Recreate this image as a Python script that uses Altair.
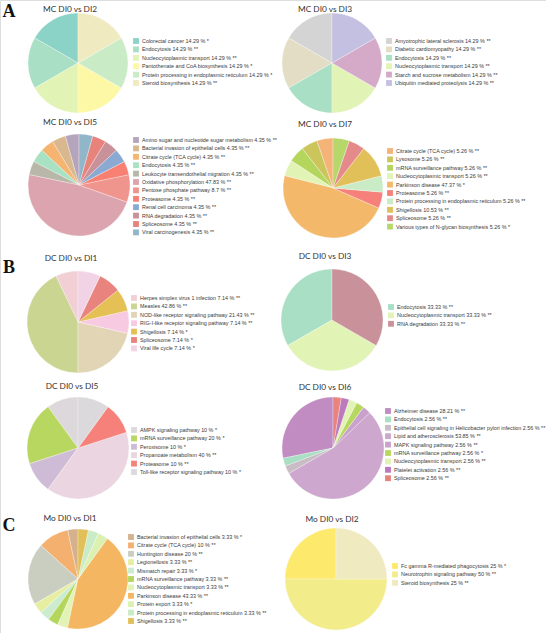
import altair as alt
import pandas as pd

# ---- MC DI0 vs DI2 ----
mc2_terms = ["Colorectal cancer", "Endocytosis", "Nucleocytoplasmic transport",
             "Pantothenate and CoA biosynthesis", "Protein processing in endoplasmic reticulum",
             "Steroid biosynthesis"]
mc2_pct = [14.29, 14.29, 14.29, 14.29, 14.29, 14.29]
mc2_sig = ["*", "**", "**", "*", "*", "**"]
mc2_colors = ["#8bd3c7", "#a9dfc4", "#e1f3b5", "#fdf8a6", "#c9ecc6", "#efeabf"]

# ---- MC DI0 vs DI3 ----
mc3_terms = ["Amyotrophic lateral sclerosis", "Diabetic cardiomyopathy", "Endocytosis",
             "Nucleocytoplasmic transport", "Starch and sucrose metabolism",
             "Ubiquitin mediated proteolysis"]
mc3_pct = [14.29, 14.29, 14.29, 14.29, 14.29, 14.29]
mc3_sig = ["**", "**", "**", "**", "**", "**"]
mc3_colors = ["#d4d4d4", "#e3ddc5", "#a9dfc4", "#e1f3b5", "#d5aac9", "#c4c0e1"]

# ---- MC DI0 vs DI5 ----
mc5_terms = ["Amino sugar and nucleotide sugar metabolism", "Bacterial invasion of epithelial cells",
             "Citrate cycle (TCA cycle)", "Endocytosis", "Leukocyte transendothelial migration",
             "Oxidative phosphorylation", "Pentose phosphate pathway", "Proteasome",
             "Renal cell carcinoma", "RNA degradation", "Spliceosome", "Viral carcinogenesis"]
mc5_pct = [4.35, 4.35, 4.35, 4.35, 4.35, 47.83, 8.7, 4.35, 4.35, 4.35, 4.35, 4.35]
mc5_sig = ["**", "**", "**", "**", "**", "**", "**", "**", "**", "**", "**", "**"]
mc5_colors = ["#b4a5bd", "#d9b78f", "#f5b571", "#a9e1c3", "#b7b8a8", "#dca4ae",
              "#f0958e", "#f88073", "#8aaad3", "#c99199", "#e8837c", "#92b6c9"]

# ---- MC DI0 vs DI7 ----
mc7_terms = ["Citrate cycle (TCA cycle)", "Lysosome", "mRNA surveillance pathway",
             "Nucleocytoplasmic transport", "Parkinson disease", "Proteasome",
             "Protein processing in endoplasmic reticulum", "Shigellosis", "Spliceosome",
             "Various types of N-glycan biosynthesis"]
mc7_pct = [5.26, 5.26, 5.26, 5.26, 47.37, 5.26, 5.26, 10.53, 5.26, 5.26]
mc7_sig = ["**", "**", "**", "**", "*", "**", "**", "**", "**", "*"]
mc7_colors = ["#f4b477", "#cbc55c", "#b5d65c", "#e1f3b5", "#f4b86b", "#f6807a",
              "#c9ecc6", "#e1c05a", "#e58a8b", "#b6d86b"]

# ---- DC DI0 vs DI1 ----
dc1_terms = ["Herpes simplex virus 1 infection", "Measles", "NOD-like receptor signaling pathway",
             "RIG-I-like receptor signaling pathway", "Shigellosis", "Spliceosome",
             "Viral life cycle"]
dc1_pct = [7.14, 42.86, 21.43, 7.14, 7.14, 7.14, 7.14]
dc1_sig = ["**", "**", "**", "**", "*", "*", "*"]
dc1_colors = ["#f2cfd4", "#cad592", "#e1d5b6", "#f8cae1", "#e4c055", "#e8837d", "#f2d3e5"]

# ---- DC DI0 vs DI3 ----
dc3_terms = ["Endocytosis", "Nucleocytoplasmic transport", "RNA degradation"]
dc3_pct = [33.33, 33.33, 33.33]
dc3_sig = ["**", "**", "**"]
dc3_colors = ["#a9dfc4", "#e1f3b5", "#c99199"]

# ---- DC DI0 vs DI5 ----
dc5_terms = ["AMPK signaling pathway", "mRNA surveillance pathway", "Peroxisome",
             "Propanoate metabolism", "Proteasome", "Toll-like receptor signaling pathway"]
dc5_pct = [10, 20, 10, 40, 10, 10]
dc5_sig = ["*", "*", "*", "**", "**", "*"]
dc5_colors = ["#ddd8db", "#b8d760", "#cebcd6", "#ebd5e1", "#f6807a", "#dcd9dc"]

# ---- DC DI0 vs DI6 ----
dc6_terms = ["Alzheimer disease", "Endocytosis",
             "Epithelial cell signaling in Helicobacter pylori infection",
             "Lipid and atherosclerosis", "MAPK signaling pathway", "mRNA surveillance pathway",
             "Nucleocytoplasmic transport", "Platelet activation", "Spliceosome"]
dc6_pct = [28.21, 2.56, 2.56, 53.85, 2.56, 2.56, 2.56, 2.56, 2.56]
dc6_sig = ["**", "**", "**", "**", "**", "*", "**", "**", "**"]
dc6_colors = ["#c18cc1", "#a9dfc4", "#c9bdc5", "#cda7cd", "#c9a1cc", "#b8d760",
              "#e1f3b5", "#bc79bd", "#e8837d"]

# ---- Mo DI0 vs DI1 ----
mo1_terms = ["Bacterial invasion of epithelial cells", "Citrate cycle (TCA cycle)",
             "Huntington disease", "Legionellosis", "Mismatch repair",
             "mRNA surveillance pathway", "Nucleocytoplasmic transport", "Parkinson disease",
             "Protein export", "Protein processing in endoplasmic reticulum", "Shigellosis"]
mo1_pct = [3.33, 10, 20, 3.33, 3.33, 3.33, 3.33, 43.33, 3.33, 3.33, 3.33]
mo1_sig = ["*", "**", "**", "**", "*", "**", "**", "**", "*", "**", "**"]
mo1_colors = ["#d5b18d", "#f4b06e", "#cacec1", "#e7eea1", "#cbeccf", "#b5d65c",
              "#e1f3b5", "#f4b661", "#dcf0b1", "#c9ecc6", "#e1c05a"]

# ---- Mo DI0 vs DI2 ----
mo2_terms = ["Fc gamma R-mediated phagocytosis", "Neurotrophin signaling pathway",
             "Steroid biosynthesis"]
mo2_pct = [25, 50, 25]
mo2_sig = ["*", "**", "**"]
mo2_colors = ["#fde96c", "#f3ec8b", "#efeabf"]

# panel title, data, title anchor, pie centre / radius, legend anchor
panels = [
    ("MC DI0 vs DI2", mc2_terms, mc2_pct, mc2_sig, mc2_colors, (70, 10), (78, 63, 50), (133, 38)),
    ("MC DI0 vs DI3", mc3_terms, mc3_pct, mc3_sig, mc3_colors, (325, 10), (332, 63, 50), (386, 38)),
    ("MC DI0 vs DI5", mc5_terms, mc5_pct, mc5_sig, mc5_colors, (70, 123), (79, 185, 51), (133, 137)),
    ("MC DI0 vs DI7", mc7_terms, mc7_pct, mc7_sig, mc7_colors, (325, 125), (333, 188, 50), (387, 148)),
    ("DC DI0 vs DI1", dc1_terms, dc1_pct, dc1_sig, dc1_colors, (71, 259), (78, 322, 51), (131, 295)),
    ("DC DI0 vs DI3", dc3_terms, dc3_pct, dc3_sig, dc3_colors, (325, 257), (332, 320, 51), (388, 304)),
    ("DC DI0 vs DI5", dc5_terms, dc5_pct, dc5_sig, dc5_colors, (72, 387), (78, 448, 51), (131, 427)),
    ("DC DI0 vs DI6", dc6_terms, dc6_pct, dc6_sig, dc6_colors, (325, 388), (333, 448, 51), (385, 408)),
    ("Mo DI0 vs DI1", mo1_terms, mo1_pct, mo1_sig, mo1_colors, (70, 519), (78, 579, 50), (128, 534)),
    ("Mo DI0 vs DI2", mo2_terms, mo2_pct, mo2_sig, mo2_colors, (332, 520), (336, 579, 51), (392, 563)),
]

section_letters = [("A", 9, 17), ("B", 9, 273), ("C", 9, 531)]

LABEL_FONT = "Liberation Sans"
TITLE_FONT = "Lato"

layers = []
for title, terms, pct, sig, colors, (tx, ty), (cx, cy, r), (lx, ly) in panels:
    legend_text = [f"{t} {p:g} % {s}" for t, p, s in zip(terms, pct, sig)]
    df = pd.DataFrame({"idx": range(len(terms)), "pct": pct, "entry": legend_text})
    pie = alt.Chart(df).mark_arc(outerRadius=r, stroke="white", strokeWidth=0.3).encode(
        x=alt.value(cx),
        y=alt.value(cy),
        theta=alt.Theta("pct:Q", stack=True),
        color=alt.Color(
            "entry:N",
            scale=alt.Scale(domain=legend_text, range=colors),
            legend=alt.Legend(
                orient="none", legendX=lx, legendY=ly, title=None,
                symbolType="square", symbolSize=34, symbolStrokeWidth=0,
                symbolOpacity=1, labelFontSize=5.4, labelFont=LABEL_FONT,
                labelColor="#3a3a3a", labelLimit=0, labelOffset=3,
                rowPadding=1.4, padding=0, offset=0,
            ),
        ),
        order=alt.Order("idx:Q", sort="descending"),
    )
    head = alt.Chart(pd.DataFrame({"t": [title]})).mark_text(
        font=TITLE_FONT, fontSize=8.3, color="#333333", align="center", baseline="middle"
    ).encode(x=alt.value(tx), y=alt.value(ty), text="t:N")
    layers += [pie, head]

for letter, x, y in section_letters:
    layers.append(
        alt.Chart(pd.DataFrame({"t": [letter]})).mark_text(
            font="Liberation Serif", fontSize=18, fontWeight="bold", color="#111111",
            align="center", baseline="alphabetic"
        ).encode(x=alt.value(x), y=alt.value(y), text="t:N")
    )

chart = alt.layer(*layers).resolve_scale(
    theta="independent", color="independent"
).properties(
    width=546, height=633, autosize=alt.AutoSizeParams(type="none"), padding=0
).configure_view(stroke=None).configure(background="white")

chart.save("out.html", embed_options={"renderer": "svg", "actions": False})
